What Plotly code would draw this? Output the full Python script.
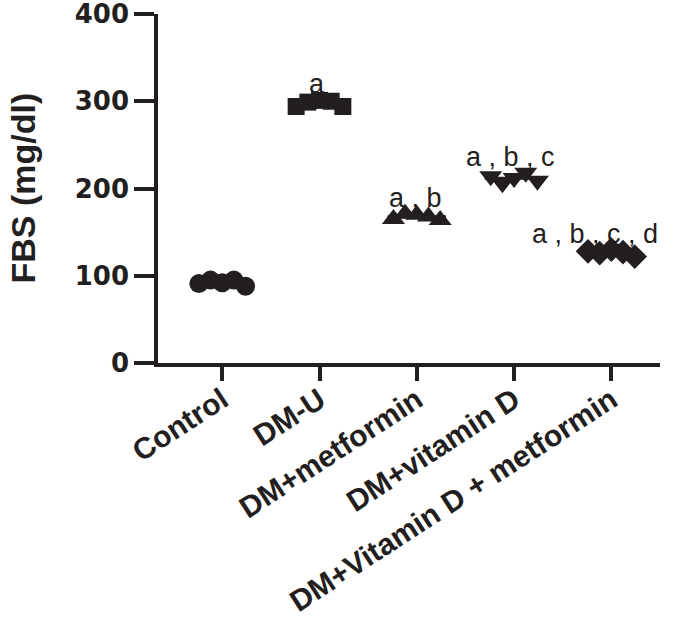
import plotly.graph_objects as go
import numpy as np

categories = ["Control", "DM-U", "DM+metformin", "DM+vitamin D", "DM+Vitamin D + metformin"]
control = [91, 95, 92, 95, 88]
dm_u = [294, 299, 301, 300, 294]
dm_metformin = [165, 171, 170, 168, 164]
dm_vitd = [214, 206, 212, 218, 209]
dm_vitd_metformin = [128, 126, 130, 127, 122]
sig_labels = ["", "a", "a , b", "a , b , c", "a , b , c , d"]
y_ticks = [0, 100, 200, 300, 400]

groups = [control, dm_u, dm_metformin, dm_vitd, dm_vitd_metformin]
symbols = ["circle", "square", "triangle-up", "triangle-down", "diamond"]
sizes = [19, 17, 20, 20, 19]
jitter = [-0.24, -0.12, 0.0, 0.12, 0.24]
ink = "#231f20"

fig = go.Figure()
for i, vals in enumerate(groups):
    xs = [i + j for j in jitter]
    fig.add_trace(go.Scatter(
        x=xs, y=vals, mode="markers",
        marker=dict(symbol=symbols[i], size=sizes[i], color=ink, line=dict(width=0)),
        showlegend=False, hoverinfo="y"))
    m = float(np.mean(vals))
    fig.add_trace(go.Scatter(
        x=[i - 0.3, i + 0.3], y=[m, m], mode="lines",
        line=dict(color=ink, width=3), showlegend=False, hoverinfo="skip"))

xshifts = [0, -3, -1, -4, -16]
for i, lab in enumerate(sig_labels):
    if not lab:
        continue
    fig.add_annotation(
        x=i, y=max(groups[i]), xref="x", yref="y",
        text=lab, showarrow=False, xanchor="center", yanchor="middle",
        yshift=16, xshift=xshifts[i],
        font=dict(family="Liberation Sans, Arial", size=27, color=ink))

fig.add_annotation(
    x=0, y=0.5, xref="paper", yref="paper", text="<b>FBS (mg/dl)</b>",
    textangle=-90, showarrow=False, xanchor="center", yanchor="middle",
    xshift=-136, font=dict(family="Liberation Sans, Arial", size=34, color=ink))

fig.update_xaxes(
    range=[-0.66, 4.5], tickmode="array", tickvals=list(range(len(categories))),
    ticktext=["<b>%s</b>" % c for c in categories], tickangle=-33,
    ticklabelstandoff=-10,
    showline=True, linecolor=ink, linewidth=3.5, ticks="outside", ticklen=14,
    tickwidth=3.5, tickcolor=ink, showgrid=False, zeroline=False, automargin=False,
    tickfont=dict(family="Liberation Sans, Arial", size=30, color=ink))
fig.update_yaxes(
    range=[0, 400], tickmode="array", tickvals=y_ticks,
    ticktext=["<b>%d</b>" % v for v in y_ticks], ticklabeloverflow="allow",
    showline=True, linecolor=ink, linewidth=3.5, ticks="outside", ticklen=20,
    tickwidth=3.5, tickcolor=ink, showgrid=False, zeroline=False, automargin=False,
    tickfont=dict(family="DejaVu Sans", size=26, color=ink))

fig.update_layout(
    width=685, height=642, margin=dict(l=158, r=25, t=14, b=279),
    plot_bgcolor="white", paper_bgcolor="white")

fig.write_html("out.html")
